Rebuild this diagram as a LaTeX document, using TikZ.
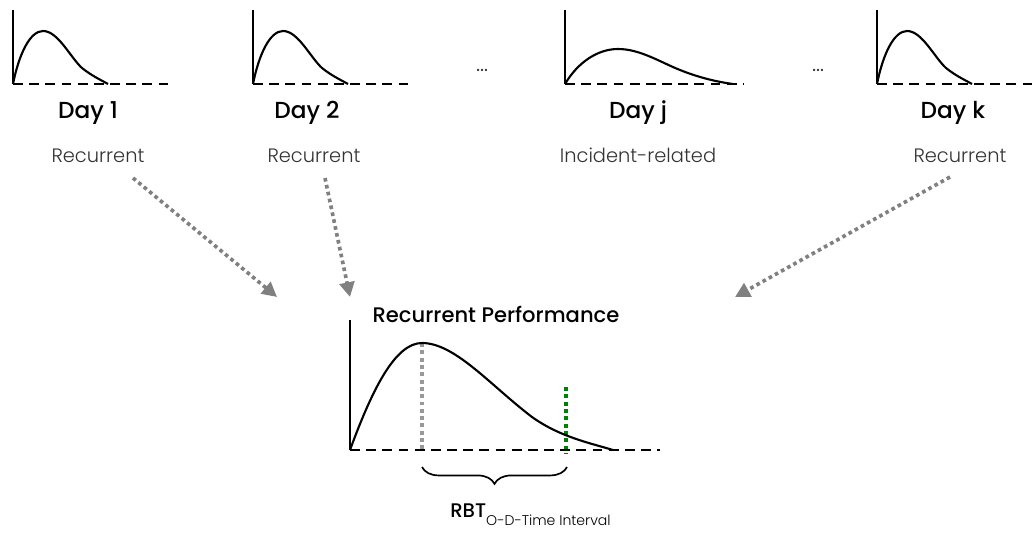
\documentclass[tikz,border=0pt]{standalone}
\usepackage{fontspec}
\setmainfont{Poppins}
\IfFontExistsTF{Poppins Light}{\newfontfamily\lightfont{Poppins Light}}{\newfontfamily\lightfont{Poppins}}
\IfFontExistsTF{Poppins Medium}{\newfontfamily\medfont{Poppins Medium}}{\newfontfamily\medfont{Poppins}}
\usetikzlibrary{arrows.meta,decorations.pathreplacing}
\definecolor{RBTGray}{HTML}{808080}
\definecolor{RBTPeak}{HTML}{999999}
\definecolor{RBTGreen}{HTML}{008000}
\definecolor{RBTText}{HTML}{333333}

\begin{document}
\begin{tikzpicture}[x=0.025cm,y=-0.025cm,>={Triangle[length=10.5pt,width=10.5pt]},
  pics/daycurve/.style={code={
    \draw[yline] (0,0) -- (0,-74);
    \draw[flowline] (0,0) .. controls (6,-30) and (17,-53) .. (30,-53)
      .. controls (45,-53) and (57,-27) .. (69,-16)
      .. controls (79,-8) and (88,-4) .. (95,0);}}]
  \tikzstyle{yline}=[line width=1.8pt]
  \tikzstyle{flowline}=[line width=1.5pt]
  \tikzstyle{zeroline}=[line width=1.8pt,dash pattern=on 7pt off 4.5pt]
  \tikzstyle{daylabel}=[font=\medfont\fontsize{16.5}{18}\selectfont,anchor=base,inner sep=0pt]
  \tikzstyle{kindlabel}=[font=\lightfont\fontsize{13.8}{16}\selectfont,text=RBTText,anchor=base,inner sep=0pt]
  \tikzstyle{feedarrow}=[->,color=RBTGray,line width=2.6pt,dash pattern=on 2.6pt off 2.4pt]
  \useasboundingbox (0,0) rectangle (1032,533);
  % daily profiles
  \coordinate (o1) at (13,84);
  \coordinate (o2) at (253,84);
  \coordinate (oj) at (565,84);
  \coordinate (ok) at (877,84);
  \pic at (o1) {daycurve};
  \pic at (o2) {daycurve};
  \draw[yline] (oj) -- (565,10);
  \draw[flowline] (oj) .. controls (578,62) and (598,49) .. (618,49)
    .. controls (640,49) and (660,62) .. (680,70)
    .. controls (700,78) and (718,82) .. (733,84);
  \pic at (ok) {daycurve};
  \draw[zeroline] (o1) -- (173,84);
  \draw[zeroline] (o2) -- (413,84);
  \draw[zeroline] (oj) -- (743,84);
  \draw[zeroline] (ok) -- (1032,84);
  \node[anchor=base,text=RBTText,font=\lightfont\fontsize{16}{18}\selectfont] (gap1) at (482,71) {\ldots};
  \node[anchor=base,text=RBTText,font=\lightfont\fontsize{16}{18}\selectfont] (gap2) at (818,71) {\ldots};
  \node[daylabel] (d1) at (88,118) {Day 1};
  \node[daylabel] (d2) at (307,118) {Day 2};
  \node[daylabel] (dj) at (638,118) {Day j};
  \node[daylabel] (dk) at (953,118) {Day k};
  \node[kindlabel] (c1) at (98,162) {Recurrent};
  \node[kindlabel] (c2) at (314,162) {Recurrent};
  \node[kindlabel] (cj) at (638,162) {Incident-related};
  \node[kindlabel] (ck) at (960,162) {Recurrent};
  % aggregated recurrent profile
  \coordinate (om) at (350,450);
  \coordinate (peak) at (422,343);
  \coordinate (cut) at (566,387);
  \draw[color=RBTPeak,line width=2.8pt,dash pattern=on 2.8pt off 2.4pt] (peak) -- (422,450);
  \draw[color=RBTGreen,line width=2.8pt,dash pattern=on 2.8pt off 2.4pt] (cut) -- (566,453);
  \draw[yline] (om) -- (350,320);
  \draw[zeroline] (om) -- (660,450);
  \draw[flowline] (om) .. controls (372,390) and (395,343) .. (peak)
    .. controls (455,343) and (490,385) .. (532,417)
    .. controls (560,437) and (590,443) .. (613,450);
  \node[anchor=base,inner sep=0pt,font=\medfont\fontsize{15}{18}\selectfont] (perf) at (496,322) {Recurrent Performance};
  \draw[line width=1.2pt,decorate,decoration={brace,mirror,amplitude=12pt}] (422,467) -- (567,467);
  \node[anchor=base west,inner sep=0pt] (rbt) at (450,517)
    {\medfont\fontsize{14}{16}\selectfont RBT\raisebox{-5.7pt}{\lightfont\fontsize{10}{12}\selectfont O-D-Time Interval}};
  % recurrent days feed the profile
  \coordinate (t1) at (277,297);
  \coordinate (t2) at (350,297);
  \coordinate (tk) at (735,297);
  \draw[feedarrow] ([shift={(35,16)}]c1.base) -- (t1);
  \draw[feedarrow] ([shift={(11,16)}]c2.base) -- (t2);
  \draw[feedarrow] ([shift={(-10,15)}]ck.base) -- (tk);
\end{tikzpicture}
\end{document}
